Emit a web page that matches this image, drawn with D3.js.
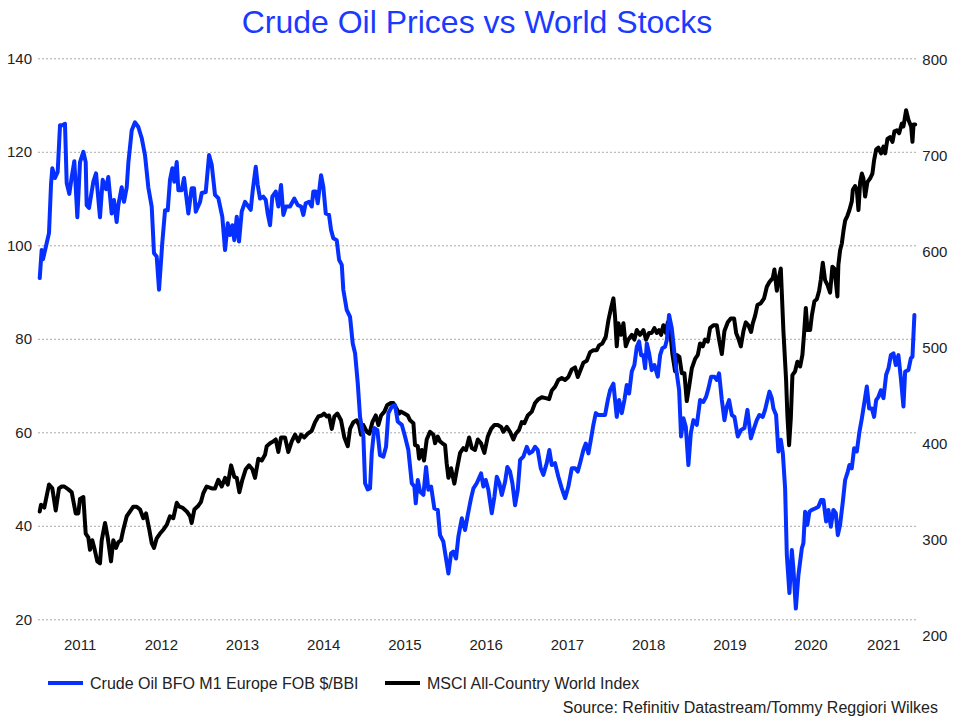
<!DOCTYPE html>
<html><head><meta charset="utf-8">
<script src="https://cdn.jsdelivr.net/npm/d3@7"></script>
<style>
body{margin:0;background:#fff}
text{font-family:"Liberation Sans",Arial,sans-serif}
</style>
</head><body>
<svg id="chart" width="953" height="716"></svg>
<script>
// ---------- data ----------
const titleText = "Crude Oil Prices vs World Stocks";
const sourceText = "Source: Refinitiv Datastream/Tommy Reggiori Wilkes";
const seriesNames = ["Crude Oil BFO M1 Europe FOB $/BBI", "MSCI All-Country World Index"];
const yearLabels = [2011,2012,2013,2014,2015,2016,2017,2018,2019,2020,2021];
const leftTicks = [20,40,60,80,100,120,140];
const rightTicks = [200,300,400,500,600,700,800];
const dateStart = 2011.0, dateEnd = 2021.79; // decimal years

// Brent crude ($/bbl), [decimal year, value]
const oilSeries = [
[2011.009,93.0],[2011.033,99.0],[2011.049,97.0],[2011.095,100.5],[2011.123,102.6],[2011.148,113.0],[2011.164,116.5],[2011.197,114.4],[2011.230,115.7],[2011.259,125.7],[2011.287,125.7],[2011.320,126.0],[2011.341,113.3],[2011.373,111.0],[2011.403,114.6],[2011.435,118.0],[2011.472,106.0],[2011.505,117.8],[2011.546,120.0],[2011.575,117.8],[2011.587,108.6],[2011.616,108.0],[2011.669,113.6],[2011.702,115.4],[2011.751,106.0],[2011.784,114.0],[2011.825,112.0],[2011.853,114.6],[2011.895,106.8],[2011.923,109.7],[2011.956,105.0],[2011.977,108.6],
[2012.018,112.4],[2012.047,109.3],[2012.080,112.4],[2012.100,117.6],[2012.142,124.6],[2012.182,126.3],[2012.223,125.3],[2012.265,122.9],[2012.305,119.3],[2012.346,112.4],[2012.388,108.2],[2012.416,98.3],[2012.449,97.6],[2012.478,90.5],[2012.518,100.5],[2012.552,107.5],[2012.585,107.5],[2012.613,114.0],[2012.642,116.5],[2012.666,113.6],[2012.696,117.8],[2012.716,111.8],[2012.757,111.8],[2012.786,114.4],[2012.839,106.8],[2012.880,112.2],[2012.909,112.2],[2012.930,107.2],[2012.983,109.3],
[2013.004,111.2],[2013.053,111.4],[2013.094,119.3],[2013.127,117.2],[2013.167,110.8],[2013.208,110.1],[2013.257,106.1],[2013.291,99.0],[2013.324,104.7],[2013.352,102.2],[2013.380,104.3],[2013.405,101.1],[2013.435,106.1],[2013.463,100.8],[2013.496,107.2],[2013.537,109.3],[2013.578,108.3],[2013.607,107.6],[2013.632,111.8],[2013.669,116.8],[2013.693,112.9],[2013.722,110.0],[2013.762,110.4],[2013.792,109.7],[2013.816,106.8],[2013.845,104.3],[2013.873,110.4],[2013.915,111.5],[2013.947,108.3],[2013.980,112.9],
[2014.009,106.5],[2014.042,108.3],[2014.091,108.3],[2014.144,110.0],[2014.186,108.6],[2014.227,108.3],[2014.255,106.5],[2014.284,109.0],[2014.325,109.3],[2014.358,108.3],[2014.378,111.5],[2014.408,111.5],[2014.432,109.0],[2014.473,115.0],[2014.501,112.5],[2014.531,106.8],[2014.571,106.5],[2014.596,103.3],[2014.624,101.5],[2014.666,101.1],[2014.695,96.9],[2014.728,95.8],[2014.747,90.5],[2014.789,86.2],[2014.830,84.7],[2014.863,79.0],[2014.892,76.9],[2014.925,70.5],[2014.953,63.3],[2014.994,59.1],
[2015.015,49.1],[2015.048,47.8],[2015.076,48.0],[2015.097,55.5],[2015.129,60.9],[2015.166,60.5],[2015.199,55.1],[2015.240,54.8],[2015.273,56.9],[2015.302,64.1],[2015.344,65.5],[2015.384,65.8],[2015.417,62.3],[2015.467,61.6],[2015.507,59.1],[2015.548,56.2],[2015.590,49.1],[2015.622,48.4],[2015.639,44.8],[2015.664,49.8],[2015.692,47.3],[2015.733,46.6],[2015.766,52.6],[2015.794,47.7],[2015.828,48.4],[2015.868,43.7],[2015.910,43.4],[2015.938,38.0],[2015.979,36.6],
[2016.008,33.4],[2016.041,29.8],[2016.074,34.1],[2016.102,34.5],[2016.135,33.0],[2016.164,37.7],[2016.206,41.6],[2016.246,39.1],[2016.279,42.3],[2016.320,45.9],[2016.349,48.0],[2016.390,49.1],[2016.443,51.2],[2016.472,48.4],[2016.501,49.8],[2016.533,47.7],[2016.575,42.7],[2016.607,46.2],[2016.637,50.5],[2016.669,49.1],[2016.698,46.6],[2016.739,49.4],[2016.767,52.6],[2016.800,51.6],[2016.829,49.1],[2016.862,44.4],[2016.895,47.7],[2016.924,54.1],[2016.964,54.8],
[2017.006,56.9],[2017.038,55.5],[2017.075,55.9],[2017.108,56.9],[2017.141,56.2],[2017.178,52.3],[2017.210,50.9],[2017.252,53.4],[2017.284,56.2],[2017.314,53.0],[2017.354,53.4],[2017.395,50.5],[2017.437,48.0],[2017.478,45.9],[2017.518,48.4],[2017.560,52.3],[2017.601,52.3],[2017.634,51.6],[2017.662,53.4],[2017.703,56.2],[2017.733,57.6],[2017.765,55.5],[2017.798,58.7],[2017.826,61.6],[2017.856,64.1],[2017.888,63.7],[2017.930,63.7],[2017.970,63.7],
[2018.004,66.9],[2018.032,69.0],[2018.073,70.4],[2018.114,63.3],[2018.143,66.9],[2018.176,64.1],[2018.208,66.9],[2018.237,70.1],[2018.266,68.3],[2018.299,73.0],[2018.331,74.4],[2018.361,78.3],[2018.389,79.4],[2018.414,76.5],[2018.442,76.5],[2018.463,73.7],[2018.484,79.0],[2018.512,76.9],[2018.545,73.3],[2018.578,74.4],[2018.619,71.9],[2018.648,76.5],[2018.676,78.0],[2018.709,78.3],[2018.730,79.7],[2018.758,85.1],[2018.792,82.2],[2018.824,76.9],[2018.853,72.6],[2018.882,69.0],[2018.906,59.1],[2018.935,63.0],[2018.964,61.2],[2018.996,53.0],
[2019.026,59.8],[2019.058,62.6],[2019.100,61.6],[2019.140,66.9],[2019.181,66.5],[2019.214,67.6],[2019.243,69.4],[2019.276,71.9],[2019.316,71.9],[2019.346,71.2],[2019.374,72.6],[2019.408,66.9],[2019.440,62.6],[2019.469,65.5],[2019.497,66.9],[2019.531,63.7],[2019.563,63.3],[2019.604,59.1],[2019.645,60.5],[2019.686,60.9],[2019.723,64.8],[2019.765,58.7],[2019.805,60.9],[2019.838,62.6],[2019.870,63.7],[2019.912,63.3],[2019.940,64.8],[2019.969,66.9],[2019.994,68.7],
[2020.023,67.3],[2020.043,65.1],[2020.076,63.7],[2020.104,55.9],[2020.134,58.4],[2020.159,55.5],[2020.187,48.0],[2020.208,33.8],[2020.240,25.6],[2020.270,34.8],[2020.289,30.9],[2020.319,22.3],[2020.351,29.5],[2020.393,35.2],[2020.412,36.3],[2020.433,43.0],[2020.461,40.2],[2020.486,43.0],[2020.516,43.4],[2020.556,43.7],[2020.597,44.1],[2020.630,45.5],[2020.659,45.5],[2020.692,40.9],[2020.720,43.4],[2020.750,39.8],[2020.782,43.4],[2020.811,42.7],[2020.836,38.0],[2020.864,40.2],[2020.898,45.2],[2020.926,49.8],[2020.959,51.6],[2020.979,53.0],
[2021.008,52.3],[2021.037,56.6],[2021.070,55.9],[2021.102,60.1],[2021.132,63.0],[2021.164,66.5],[2021.193,69.8],[2021.222,65.1],[2021.255,65.1],[2021.283,63.3],[2021.308,66.9],[2021.336,67.6],[2021.366,69.0],[2021.398,67.3],[2021.431,72.3],[2021.460,73.7],[2021.489,76.5],[2021.521,76.9],[2021.550,74.4],[2021.582,76.5],[2021.612,71.6],[2021.644,65.5],[2021.665,73.0],[2021.705,73.3],[2021.735,75.8],[2021.755,76.2],[2021.779,85.1]
];

// MSCI ACWI index, [decimal year, value]
const msciSeries = [
[2011.009,329],[2011.025,336],[2011.065,333],[2011.123,357],[2011.164,353],[2011.206,330],[2011.246,353],[2011.280,355],[2011.312,355],[2011.361,352],[2011.403,349],[2011.452,327],[2011.484,327],[2011.505,342],[2011.546,344],[2011.575,306],[2011.607,302],[2011.628,289],[2011.656,299],[2011.681,291],[2011.718,277],[2011.751,275],[2011.772,299],[2011.813,317],[2011.846,302],[2011.887,277],[2011.915,299],[2011.948,291],[2011.977,297],
[2012.010,299],[2012.038,310],[2012.080,324],[2012.121,329],[2012.161,334],[2012.203,334],[2012.244,331],[2012.284,322],[2012.318,327],[2012.358,310],[2012.388,296],[2012.416,291],[2012.449,301],[2012.490,306],[2012.531,310],[2012.573,315],[2012.613,324],[2012.654,322],[2012.696,338],[2012.728,334],[2012.765,333],[2012.819,329],[2012.860,324],[2012.880,317],[2012.913,331],[2012.962,335],[2012.995,339],
[2013.023,348],[2013.065,355],[2013.127,353],[2013.167,353],[2013.208,362],[2013.250,355],[2013.291,364],[2013.324,357],[2013.365,377],[2013.405,365],[2013.435,364],[2013.467,349],[2013.504,362],[2013.546,373],[2013.586,377],[2013.627,373],[2013.660,364],[2013.701,384],[2013.743,382],[2013.783,388],[2013.804,397],[2013.845,400],[2013.885,402],[2013.915,404],[2013.947,391],[2013.980,406],
[2014.029,406],[2014.070,391],[2014.112,402],[2014.153,409],[2014.193,402],[2014.227,409],[2014.267,406],[2014.309,410],[2014.358,413],[2014.399,422],[2014.440,428],[2014.481,429],[2014.510,431],[2014.543,428],[2014.571,429],[2014.605,415],[2014.637,428],[2014.674,431],[2014.719,424],[2014.760,406],[2014.802,397],[2014.830,415],[2014.871,422],[2014.912,424],[2014.941,419],[2014.965,409],[2014.994,419],
[2015.036,412],[2015.068,410],[2015.105,422],[2015.147,429],[2015.179,419],[2015.212,429],[2015.253,433],[2015.289,440],[2015.331,442],[2015.363,442],[2015.396,437],[2015.437,431],[2015.458,433],[2015.499,431],[2015.540,429],[2015.569,424],[2015.610,421],[2015.630,398],[2015.664,397],[2015.680,384],[2015.713,393],[2015.741,382],[2015.774,404],[2015.815,412],[2015.856,409],[2015.877,400],[2015.910,407],[2015.938,402],[2015.967,400],
[2016.000,398],[2016.020,379],[2016.041,364],[2016.074,374],[2016.114,358],[2016.144,372],[2016.185,390],[2016.225,395],[2016.258,393],[2016.296,406],[2016.329,395],[2016.369,393],[2016.403,404],[2016.443,400],[2016.484,390],[2016.526,407],[2016.567,415],[2016.607,419],[2016.649,419],[2016.690,417],[2016.718,412],[2016.760,417],[2016.800,412],[2016.841,404],[2016.871,410],[2016.911,414],[2016.944,422],[2016.977,421],
[2017.018,429],[2017.068,433],[2017.108,442],[2017.149,446],[2017.191,448],[2017.240,447],[2017.281,446],[2017.314,455],[2017.355,459],[2017.395,466],[2017.437,468],[2017.478,466],[2017.518,469],[2017.560,477],[2017.601,479],[2017.634,469],[2017.662,475],[2017.703,484],[2017.745,486],[2017.786,495],[2017.826,497],[2017.868,497],[2017.896,502],[2017.937,504],[2017.979,511],
[2018.011,528],[2018.044,541],[2018.073,551],[2018.093,532],[2018.114,501],[2018.134,525],[2018.167,513],[2018.196,525],[2018.225,501],[2018.257,508],[2018.299,513],[2018.331,508],[2018.361,518],[2018.401,513],[2018.442,518],[2018.475,508],[2018.512,515],[2018.545,515],[2018.577,520],[2018.607,515],[2018.635,518],[2018.660,513],[2018.688,523],[2018.718,515],[2018.742,526],[2018.771,518],[2018.799,493],[2018.832,475],[2018.853,492],[2018.885,490],[2018.915,473],[2018.947,473],[2018.976,444],
[2019.005,459],[2019.038,478],[2019.079,488],[2019.112,492],[2019.140,504],[2019.173,501],[2019.202,508],[2019.235,506],[2019.263,520],[2019.304,523],[2019.346,523],[2019.374,508],[2019.408,493],[2019.440,517],[2019.481,526],[2019.518,530],[2019.559,530],[2019.584,515],[2019.612,509],[2019.642,501],[2019.674,517],[2019.703,526],[2019.735,523],[2019.768,516],[2019.789,525],[2019.818,533],[2019.846,544],[2019.888,546],[2019.928,551],[2019.962,563],[2019.994,568],
[2020.035,572],[2020.055,581],[2020.085,559],[2020.109,572],[2020.134,582],[2020.166,517],[2020.199,466],[2020.215,429],[2020.236,398],[2020.257,426],[2020.277,471],[2020.310,475],[2020.338,485],[2020.372,480],[2020.400,492],[2020.421,515],[2020.442,541],[2020.462,518],[2020.495,518],[2020.516,533],[2020.548,548],[2020.577,550],[2020.606,559],[2020.626,570],[2020.651,588],[2020.679,570],[2020.708,565],[2020.741,557],[2020.769,584],[2020.794,582],[2020.831,553],[2020.843,586],[2020.864,601],[2020.885,608],[2020.905,621],[2020.926,632],[2020.954,637],[2020.979,643],
[2021.008,652],[2021.021,664],[2021.049,668],[2021.070,664],[2021.090,643],[2021.111,672],[2021.132,681],[2021.151,676],[2021.172,657],[2021.200,672],[2021.234,676],[2021.262,681],[2021.283,695],[2021.308,706],[2021.336,708],[2021.369,702],[2021.398,709],[2021.419,702],[2021.447,717],[2021.480,719],[2021.509,714],[2021.533,725],[2021.563,726],[2021.591,723],[2021.624,733],[2021.644,730],[2021.677,747],[2021.705,737],[2021.739,730],[2021.755,714],[2021.768,732],[2021.789,732]
];

// ---------- style ----------
const blue = "#0530ff", black = "#000000", titleBlue = "#1a3aff", textColor = "#222";
const plot = {left: 39, right: 915.3, top: 58.3, bottom: 619.3};

const svg = d3.select("#chart");
svg.append("rect").attr("width", 953).attr("height", 716).attr("fill", "#fff");

const x = d3.scaleLinear().domain([dateStart, dateEnd]).range([plot.left, plot.right]);
const yL = d3.scaleLinear().domain([20, 140]).range([plot.bottom, plot.top]);
const yR = d3.scaleLinear().domain([200, 800]).range([635.3, 59.3]);

// title
svg.append("text").attr("x", 477).attr("y", 22).attr("text-anchor", "middle")
  .attr("dominant-baseline", "central").attr("font-size", 32).attr("fill", titleBlue).text(titleText);

// gridlines
svg.append("g").selectAll("line").data(leftTicks).join("line")
  .attr("x1", plot.left - 1).attr("x2", plot.right + 1)
  .attr("y1", d => yL(d) + 0.5).attr("y2", d => yL(d) + 0.5)
  .attr("stroke", "#aaa").attr("stroke-width", 1).attr("stroke-dasharray", "2,2");

// left axis
const gL = svg.append("g").attr("transform", `translate(${plot.left - 1},0)`)
  .call(d3.axisLeft(yL).tickValues(leftTicks).tickSize(0).tickPadding(6));
gL.select(".domain").remove();
gL.selectAll("text").attr("font-size", 15).attr("fill", textColor).style("font-family", '"Liberation Sans",Arial,sans-serif');

// right axis
const gR = svg.append("g").attr("transform", `translate(${plot.right + 1},0)`)
  .call(d3.axisRight(yR).tickValues(rightTicks).tickSize(0).tickPadding(6));
gR.select(".domain").remove();
gR.selectAll("text").attr("font-size", 15).attr("fill", textColor).style("font-family", '"Liberation Sans",Arial,sans-serif');

// x axis: year labels centred in each year's span (clipped to the domain)
const yearMid = yearLabels.map(yv => (Math.max(yv, dateStart) + Math.min(yv + 1, dateEnd)) / 2);
const gX = svg.append("g").attr("transform", `translate(0,${plot.bottom + 25})`)
  .call(d3.axisBottom(x).tickValues(yearMid).tickSize(0).tickPadding(0)
    .tickFormat((d, i) => String(yearLabels[i])));
gX.select(".domain").remove();
gX.selectAll("text").attr("y", 0).attr("dy", "0.35em").attr("font-size", 15).attr("fill", textColor)
  .style("font-family", '"Liberation Sans",Arial,sans-serif');

// lines
const line = (ys) => d3.line().x(d => x(d[0])).y(d => ys(d[1])).curve(d3.curveLinear);
svg.append("path").datum(msciSeries).attr("d", line(yR))
  .attr("fill", "none").attr("stroke", black).attr("stroke-width", 4).attr("stroke-linejoin", "round").attr("stroke-linecap", "round");
svg.append("path").datum(oilSeries).attr("d", line(yL))
  .attr("fill", "none").attr("stroke", blue).attr("stroke-width", 4).attr("stroke-linejoin", "round").attr("stroke-linecap", "round");

// legend
const legendItems = [{name: seriesNames[0], color: blue, x: 48}, {name: seriesNames[1], color: black, x: 385}];
const lg = svg.append("g").selectAll("g").data(legendItems).join("g")
  .attr("transform", d => `translate(${d.x},683)`);
lg.append("line").attr("x1", 0).attr("x2", 35).attr("y1", 0).attr("y2", 0)
  .attr("stroke", d => d.color).attr("stroke-width", 4);
lg.append("text").attr("x", 42).attr("y", 0).attr("dy", "0.35em").attr("font-size", 16)
  .attr("fill", textColor).text(d => d.name);

// source
svg.append("text").attr("x", 938).attr("y", 707).attr("dy", "0.35em").attr("text-anchor", "end")
  .attr("font-size", 16).attr("fill", textColor).text(sourceText);
</script>
</body></html>
